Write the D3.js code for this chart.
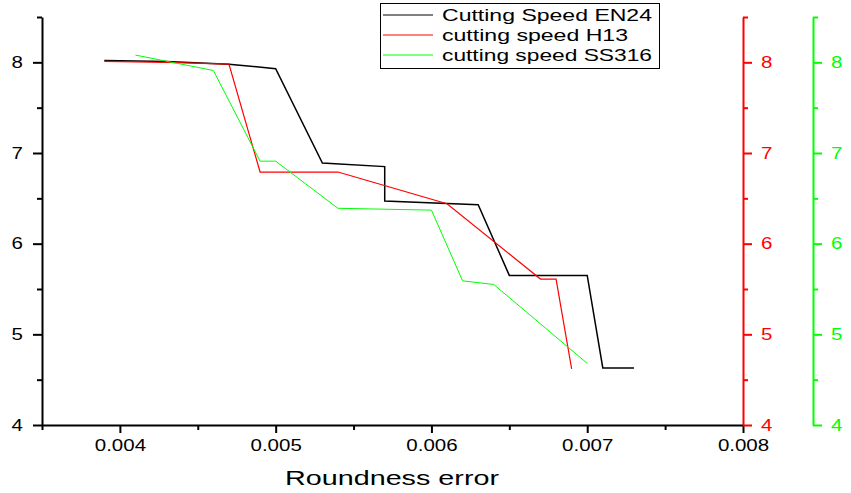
<!DOCTYPE html>
<html><head><meta charset="utf-8">
<script src="https://cdn.jsdelivr.net/npm/d3@7"></script>
<style>body{margin:0;background:#fff;overflow:hidden} text{font-family:"Liberation Sans",Arial,sans-serif}</style>
</head><body><svg id="c" width="851" height="493"></svg>
<script>
const seriesNames = ["Cutting Speed EN24", "cutting speed H13", "cutting speed SS316"];
const seriesColors = ["#000000", "#ff0000", "#00ff00"];
const en24X = [0.0039, 0.0043, 0.0047, 0.0050, 0.0053, 0.0057, 0.0057, 0.0063, 0.0065, 0.0070, 0.0071, 0.0073];
const en24Y = [8.02, 8.01, 7.98, 7.93, 6.89, 6.85, 6.47, 6.43, 5.65, 5.65, 4.63, 4.63];
const h13X = [0.0039, 0.0043, 0.0047, 0.0049, 0.0054, 0.0061, 0.0067, 0.0068, 0.0069];
const h13Y = [8.01, 8.00, 7.98, 6.79, 6.79, 6.44, 5.61, 5.61, 4.62];
const ss316X = [0.0041, 0.0046, 0.0049, 0.0050, 0.0054, 0.0060, 0.0062, 0.0064, 0.0070];
const ss316Y = [8.08, 7.91, 6.91, 6.91, 6.39, 6.37, 5.59, 5.55, 4.68];
const xTicks = [0.004, 0.005, 0.006, 0.007, 0.008];
const xMinorTicks = [0.0035, 0.0045, 0.0055, 0.0065, 0.0075];
const yTicks = [4, 5, 6, 7, 8];
const yMinorTicks = [4.5, 5.5, 6.5, 7.5, 8.5];
const xLabel = "Roundness error";

const svg = d3.select("#c");
const L = 42, R = 743, T = 17, B = 425;
const x = d3.scaleLinear().domain([0.0035, 0.008]).range([L, R]);
const yL = d3.scaleLinear().domain([4, 8.5]).range([B, T]);
const yR = d3.scaleLinear().domain([4, 8.5]).range([B, T]);
const yG = d3.scaleLinear().domain([4, 8.5]).range([B, T]);
const STRETCH = 1.28;

function styleAxis(g, color, fs) {
  g.selectAll("path").attr("stroke", color).attr("stroke-width", 2);
  g.selectAll("line").attr("stroke", color).attr("stroke-width", 2);
  g.selectAll("text").attr("fill", color).style("font-size", fs + "px")
    .style("font-family", '"Liberation Sans",Arial,sans-serif')
    .each(function () {
      const w = this.getComputedTextLength();
      if (w > 0) d3.select(this).attr("textLength", w * STRETCH).attr("lengthAdjust", "spacingAndGlyphs");
    });
}

// bottom axis
const gx = svg.append("g").attr("transform", `translate(0,${B})`)
  .call(d3.axisBottom(x).tickValues(xTicks).tickFormat(d3.format(".3f")).tickSize(8).tickSizeOuter(0).tickPadding(7));
styleAxis(gx, "#000", 16);
const gxm = svg.append("g").attr("transform", `translate(0,${B})`)
  .call(d3.axisBottom(x).tickValues(xMinorTicks).tickFormat("").tickSize(5).tickSizeOuter(0));
styleAxis(gxm, "#000", 16); gxm.select("path").remove();

// left axis
const gy = svg.append("g").attr("transform", `translate(${L},0)`)
  .call(d3.axisLeft(yL).tickValues(yTicks).tickFormat(d3.format("d")).tickSize(9).tickSizeOuter(0).tickPadding(10));
styleAxis(gy, "#000", 16);
const gym = svg.append("g").attr("transform", `translate(${L},0)`)
  .call(d3.axisLeft(yL).tickValues(yMinorTicks).tickFormat("").tickSize(5).tickSizeOuter(0));
styleAxis(gym, "#000", 16); gym.select("path").remove();

// right axes
const GX = 813;
[[R, yR, "#ff0000"], [GX, yG, "#00ff00"]].forEach(([px, sc, col]) => {
  const g = svg.append("g").attr("transform", `translate(${px},0)`)
    .call(d3.axisRight(sc).tickValues(yTicks).tickFormat(d3.format("d")).tickSize(9).tickSizeOuter(0).tickPadding(9));
  styleAxis(g, col, 16);
  const gm = svg.append("g").attr("transform", `translate(${px},0)`)
    .call(d3.axisRight(sc).tickValues(yMinorTicks).tickFormat("").tickSize(5).tickSizeOuter(0));
  styleAxis(gm, col, 16); gm.select("path").remove();
});

// x label
svg.append("text").attr("x", 392).attr("y", 485).attr("text-anchor", "middle")
  .style("font-size", "21px").attr("fill", "#000")
  .attr("textLength", 214).attr("lengthAdjust", "spacingAndGlyphs").text(xLabel);

// series
const data = [
  {xs: en24X, ys: en24Y, sc: yL, w: 1.5},
  {xs: h13X, ys: h13Y, sc: yR, w: 1.2},
  {xs: ss316X, ys: ss316Y, sc: yG, w: 1},
];
data.forEach((s, i) => {
  const pts = s.xs.map((v, j) => [v, s.ys[j]]);
  svg.append("path").datum(pts)
    .attr("fill", "none").attr("stroke", seriesColors[i]).attr("stroke-width", s.w)
    .attr("d", d3.line().x(d => x(d[0])).y(d => s.sc(d[1])));
});

// legend
const lg = svg.append("g");
lg.append("rect").attr("x", 380.5).attr("y", 3.5).attr("width", 279).attr("height", 65)
  .attr("fill", "#fff").attr("stroke", "#000").attr("stroke-width", 1);
const legendLens = [210, 186, 210];
seriesNames.forEach((n, i) => {
  const yy = 15 + i * 20;
  lg.append("line").attr("x1", 383).attr("x2", 433).attr("y1", yy).attr("y2", yy)
    .attr("stroke", seriesColors[i]).attr("stroke-width", 1);
  lg.append("text").attr("x", 442).attr("y", yy + 6).style("font-size", "17px").attr("fill", "#000")
    .attr("textLength", legendLens[i]).attr("lengthAdjust", "spacingAndGlyphs").text(n);
});
</script></body></html>
